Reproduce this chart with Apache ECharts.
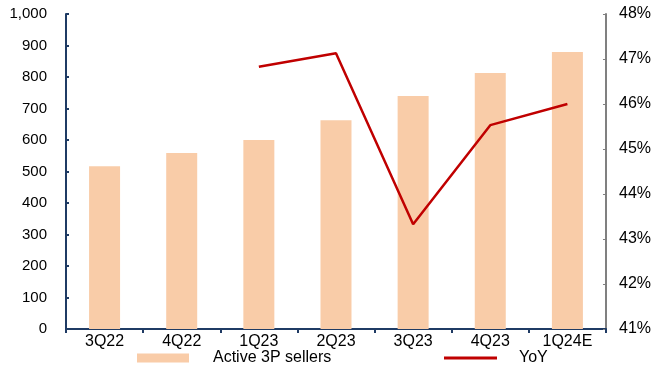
<!DOCTYPE html>
<html>
<head>
<meta charset="utf-8">
<script src="https://cdn.jsdelivr.net/npm/echarts@6/dist/echarts.min.js"></script>
<style>
  html, body { margin: 0; padding: 0; background: #fff; }
  #chart { width: 654px; height: 373px; }
</style>
</head>
<body>
<div id="chart"></div>
<script>
// Quarterly active third-party sellers (thousands) with YoY growth
const quarters = ['3Q22', '4Q22', '1Q23', '2Q23', '3Q23', '4Q23', '1Q24E'];
const activeSellers = [517, 559, 600, 663, 740, 813, 879];
const yoyGrowth = [null, null, 46.83, 47.13, 43.33, 45.53, 46.0];

const navy = '#1F3B64';
const grey = '#808080';
const barColor = '#F9CCA8';
const lineColor = '#C00000';
const font = 'Liberation Sans, Arial, sans-serif';

const chart = echarts.init(document.getElementById('chart'));
chart.setOption({
  animation: false,
  textStyle: { fontFamily: font },
  grid: { left: 66, right: 47, top: 14, bottom: 44, containLabel: false },
  legend: [
    {
      top: 350,
      left: 137,
      padding: 0,
      itemWidth: 52,
      itemHeight: 9,
      textStyle: { fontSize: 16, color: '#000', fontFamily: font, padding: [0, 0, 0, 19] },
      data: [{ name: 'Active 3P sellers', icon: 'rect' }]
    },
    {
      top: 350,
      left: 444,
      padding: 0,
      itemWidth: 53,
      itemHeight: 3,
      textStyle: { fontSize: 16, color: '#000', fontFamily: font, padding: [0, 0, 0, 17] },
      data: [{ name: 'YoY', icon: 'rect' }]
    }
  ],
  xAxis: {
    type: 'category',
    data: quarters,
    axisLine: { lineStyle: { color: navy, width: 2 } },
    axisTick: { show: true, inside: false, length: 4, lineStyle: { color: navy, width: 2 } },
    axisLabel: { color: '#000', fontSize: 16, margin: 5, fontFamily: font },
    splitLine: { show: false }
  },
  yAxis: [
    {
      type: 'value',
      min: 0, max: 1000, interval: 100,
      axisLine: { show: true, lineStyle: { color: navy, width: 2 } },
      axisTick: { show: true, inside: true, length: 3, lineStyle: { color: navy, width: 2 } },
      axisLabel: {
        color: '#000', fontSize: 15, margin: 19, fontFamily: font,
        formatter: v => v.toLocaleString('en-US')
      },
      splitLine: { show: false }
    },
    {
      type: 'value',
      min: 41, max: 48, interval: 1,
      position: 'right',
      axisLine: { show: true, lineStyle: { color: grey, width: 2 } },
      axisTick: { show: true, inside: true, length: 3, lineStyle: { color: grey, width: 1 } },
      axisLabel: { color: '#000', fontSize: 16, margin: 13, fontFamily: font, formatter: '{value}%' },
      splitLine: { show: false }
    }
  ],
  series: [
    {
      name: 'Active 3P sellers',
      type: 'bar',
      data: activeSellers,
      barWidth: 31,
      itemStyle: { color: barColor },
      z: 1
    },
    {
      name: 'YoY',
      type: 'line',
      yAxisIndex: 1,
      data: yoyGrowth,
      symbol: 'none',
      lineStyle: { color: lineColor, width: 2.5 },
      itemStyle: { color: lineColor },
      z: 3
    }
  ]
});
</script>
</body>
</html>
